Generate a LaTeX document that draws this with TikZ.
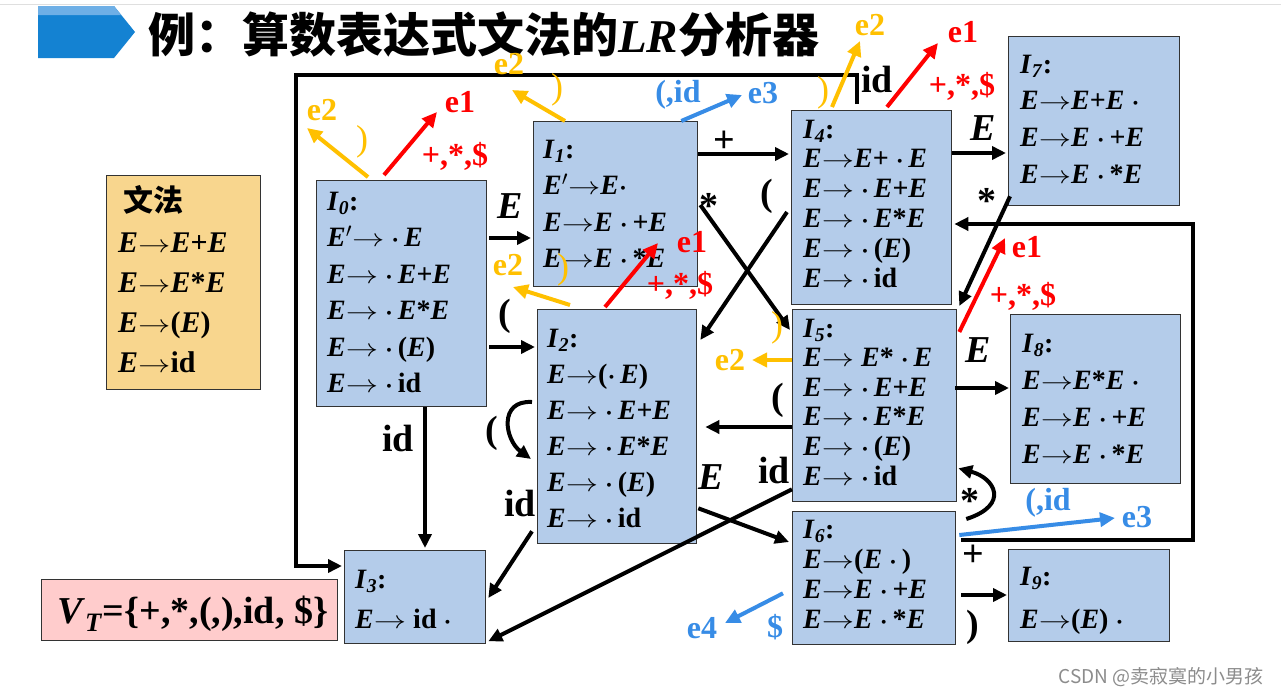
\documentclass[tikz,border=0pt]{standalone}
\usepackage{fontspec}
\usepackage{graphicx}
\setmainfont{Liberation Serif}
\newfontfamily\cjk{Noto Sans CJK SC}
\usetikzlibrary{arrows.meta,calc}
\definecolor{boxblue}{RGB}{180,204,234}
\definecolor{gramorange}{RGB}{248,214,142}
\definecolor{vtpink}{RGB}{255,204,204}
\definecolor{eyellow}{RGB}{255,192,0}
\definecolor{ered}{RGB}{255,0,0}
\definecolor{eblue}{RGB}{55,140,230}
\definecolor{titleblue}{RGB}{20,130,210}
\definecolor{titlelight}{RGB}{110,175,230}
\newcommand\E{\textit{E}}
\newcommand\ra{\scalebox{1.3}[1]{$\rightarrow$}}
\newcommand\dt{{\boldmath$\cdot$}}
\newcommand\Ix[1]{\textit{I}\textsubscript{\textit{#1}}:}
\begin{document}
\begin{tikzpicture}[x=1pt,y=-1pt,
  box/.style={draw=black!80,line width=1.3pt,fill=boxblue,anchor=north west,inner sep=0pt},
  btxt/.style={anchor=north west,inner sep=0pt,align=left,font=\bfseries\fontsize{28}{#1}\selectfont},
  lab/.style={inner sep=0pt,font=\bfseries\fontsize{38}{38}\selectfont},
  elab/.style={inner sep=0pt,font=\bfseries\fontsize{32}{32}\selectfont},
  plab/.style={inner sep=0pt,font=\fontsize{36}{36}\selectfont},
  edge/.style={line width=4pt,line join=miter,-{Triangle[length=14pt,width=13pt]}},
  eedge/.style={line width=4pt,-{Triangle[length=15pt,width=14pt]}}
]
\useasboundingbox (0,0) rectangle (1281,696);
\fill[white] (0,0) rectangle (1281,696);
\draw[gray!25,line width=1pt] (0,4) -- (1281,4);
% title
\fill[titleblue] (38,6) -- (114,6) -- (135,32) -- (114,58) -- (38,58) -- cycle;
\fill[titlelight] (38,6) -- (114,6) -- (121,15) -- (38,15) -- cycle;
\node[anchor=west,inner sep=0pt] (title) at (148,34) {\cjk\bfseries\fontsize{47}{47}\selectfont 例：算数表达式文法的{\rmfamily\bfseries\itshape LR}分析器};
% grammar and VT
\node[box,fill=gramorange,minimum width=154pt,minimum height=214pt] (G) at (106,175) {};
\node[anchor=west,inner sep=0pt] (Gt) at (123,200) {\cjk\bfseries\fontsize{30}{30}\selectfont 文法};
\node[btxt=40,font=\bfseries\fontsize{30}{40}\selectfont] (Gr) at (118,233) {\E\ra\E+\E\\ \E\ra\E*\E\\ \E\ra(\E)\\ \E\ra id};
\node[box,fill=vtpink,minimum width=296pt,minimum height=61pt] (VT) at (41,579) {};
\node[anchor=base west,inner sep=0pt,font=\bfseries\fontsize{38}{38}\selectfont] (VTt) at (57,623) {\textit{V}\textsubscript{\textit{T}}=\{+,*,(,),id, \$\}};
% item boxes
\node[box,minimum width=170pt,minimum height=226pt] (I0) at (316,180) {};
\node[box,minimum width=164pt,minimum height=165pt] (I1) at (533,121) {};
\node[box,minimum width=159pt,minimum height=234pt] (I2) at (537,309) {};
\node[box,minimum width=141pt,minimum height=93pt] (I3) at (344,550) {};
\node[box,minimum width=160pt,minimum height=194pt] (I4) at (791,110) {};
\node[box,minimum width=164pt,minimum height=192pt] (I5) at (792,309) {};
\node[box,minimum width=163pt,minimum height=133pt] (I6) at (792,511) {};
\node[box,minimum width=171pt,minimum height=169pt] (I7) at (1008,36) {};
\node[box,minimum width=170pt,minimum height=169pt] (I8) at (1010,314) {};
\node[box,minimum width=161pt,minimum height=92pt] (I9) at (1008,549) {};
\node[btxt=36.5] (T0) at (327,191.5) {\Ix{0}\\ \E$'$\ra\ \dt\,\E\\ \E\ra\ \dt\,\E+\E\\ \E\ra\ \dt\,\E*\E\\ \E\ra\ \dt\,(\E)\\ \E\ra\ \dt\,id};
\node[btxt=36.5] (T1) at (543,139.5) {\Ix{1}\\ \E$'$\ra\E\dt\\ \E\ra\E\ \dt\,+\E\\ \E\ra\E\ \dt\,*\E};
\node[btxt=36] (T2) at (547,328.5) {\Ix{2}\\ \E\ra(\dt\,\E)\\ \E\ra\ \dt\,\E+\E\\ \E\ra\ \dt\,\E*\E\\ \E\ra\ \dt\,(\E)\\ \E\ra\ \dt\,id};
\node[btxt=40] (T3) at (355,569.5) {\Ix{3}\\ \E\ra\ id \dt};
\node[btxt=29.8] (T4) at (803,119.5) {\Ix{4}\\ \E\ra\E+\ \dt\,\E\\ \E\ra\ \dt\,\E+\E\\ \E\ra\ \dt\,\E*\E\\ \E\ra\ \dt\,(\E)\\ \E\ra\ \dt\,id};
\node[btxt=29.6] (T5) at (803,318.5) {\Ix{5}\\ \E\ra\ \E*\ \dt\,\E\\ \E\ra\ \dt\,\E+\E\\ \E\ra\ \dt\,\E*\E\\ \E\ra\ \dt\,(\E)\\ \E\ra\ \dt\,id};
\node[btxt=30] (T6) at (803,519.5) {\Ix{6}\\ \E\ra(\E\ \dt\,)\\ \E\ra\E\ \dt\,+\E\\ \E\ra\E\ \dt\,*\E};
\node[btxt=36.7] (T7) at (1020,54.5) {\Ix{7}\\ \E\ra\E+\E\ \dt\\ \E\ra\E\ \dt\,+\E\\ \E\ra\E\ \dt\,*\E};
\node[btxt=37.3] (T8) at (1022,333.5) {\Ix{8}\\ \E\ra\E*\E\ \dt\\ \E\ra\E\ \dt\,+\E\\ \E\ra\E\ \dt\,*\E};
\node[btxt=43] (T9) at (1020,566.5) {\Ix{9}\\ \E\ra(\E)\ \dt};
% corner coordinates
\coordinate (c1) at (296,75);
\coordinate (c2) at (296,566);
\coordinate (c3) at (1193,540);
\coordinate (c4) at (1193,224);
% black transitions
\draw[edge] ($(I0.north east)+(2,58)$) -- ($(I1.north west)+(-2,117)$);
\draw[edge] ($(I0.north east)+(2,167)$) -- ($(I2.north west)+(-2,38)$);
\draw[edge] ($(I0.south west)+(109,0)$) -- ($(I3.north west)+(81,-2)$);
\draw[edge] ($(I4.north west)+(66,-6)$) |- (c1) -- (c2) -- ($(I3.north west)+(-2,16)$);
\draw[edge] ($(I1.north east)+(0,33)$) -- ($(I4.north west)+(-2,44)$);
\draw[edge] ($(I1.north east)+(2,84)$) -- ($(I5.north west)+(-2,21)$);
\draw[edge] ($(I4.north west)+(-4,102)$) -- ($(I2.north east)+(3,31)$);
\draw[edge] ($(I4.north east)+(0,43)$) -- ($(I7.north west)+(-2,117)$);
\draw[edge] ($(I7.south west)+(2,-10)$) -- ($(I5.north east)+(2,-3)$);
\draw[edge] ($(I6.north east)+(5,29)$) -- (c3) -- (c4) -- ($(I4.north east)+(2,114)$);
\draw[edge] ($(I5.north east)+(-2,79)$) -- ($(I8.north west)+(-1,74)$);
\draw[edge] ($(I5.north west)+(0,118)$) -- ($(I2.north east)+(8,118)$);
\draw[edge] ($(I5.south west)+(0,-13)$) -- ($(I3.south east)+(2,-3)$);
\draw[edge] ($(I6.north east)+(10,8)$) .. controls (1010,505) and (995,478) .. ($(I5.south east)+(1,-34)$);
\draw[edge] ($(I2.north west)+(-5,93)$) .. controls (498,400) and (505,440) .. ($(I2.north west)+(-6,150)$);
\draw[edge] ($(I2.south west)+(-5,-13)$) -- ($(I3.north east)+(2,48)$);
\draw[edge] ($(I2.south east)+(1,-36)$) -- ($(I6.north west)+(-3,31)$);
\draw[edge] ($(I6.north east)+(5,84)$) -- ($(I9.north west)+(-1,46)$);
% black labels
\node[lab] (lE01) at (510,206) {\textit{E}};
\node[lab] (lP02) at (505,316) {(};
\node[lab] (lid03) at (398,438) {id};
\node[lab] (lid43) at (877,80) {id};
\node[lab] (lpl14) at (724,142) {+};
\node[lab] (lst15) at (709,206) {*};
\node[lab] (lP42) at (767,196) {(};
\node[lab] (lE47) at (983,128) {\textit{E}};
\node[lab] (lst75) at (987,201) {*};
\node[lab] (lpl64) at (973,556) {+};
\node[lab] (lE58) at (978,350) {\textit{E}};
\node[lab] (lP52) at (778,400) {(};
\node[lab] (lid53) at (774,470) {id};
\node[lab] (lst65) at (970,501) {*};
\node[lab] (lP22) at (492,433) {(};
\node[lab] (lid23) at (520,503) {id};
\node[lab] (lE26) at (711,477) {\textit{E}};
\node[lab] (lP69) at (973,627) {)};
% error coordinates
\coordinate (y0) at (307,128);
\coordinate (y1) at (512,90);
\coordinate (y2) at (513,287);
\coordinate (y4) at (860,41);
\coordinate (y5) at (752,360);
\coordinate (r0) at (437,112);
\coordinate (r2) at (658,243);
\coordinate (r4) at (938,43);
\coordinate (r5) at (1005,238);
\coordinate (b1) at (742,95);
\coordinate (b6) at (1115,518);
\coordinate (b7) at (725,623);
% yellow e2
\draw[eedge,eyellow] ($(I0.north west)+(52,-3)$) -- (y0);
\draw[eedge,eyellow] ($(I1.north west)+(32,0)$) -- (y1);
\draw[eedge,eyellow] ($(I2.north west)+(33,-4)$) -- (y2);
\draw[eedge,eyellow] ($(I4.north west)+(41,-3)$) -- (y4);
\draw[eedge,eyellow] ($(I5.north west)+(0,51)$) -- (y5);
\node[plab,eyellow] (py0) at (362,142) {)};
\node[elab,eyellow] (ey0) at (322,110) {e2};
\node[plab,eyellow] (py1) at (557,90) {)};
\node[elab,eyellow] (ey1) at (509,64) {e2};
\node[plab,eyellow] (py2) at (563,270) {)};
\node[elab,eyellow] (ey2) at (508,265) {e2};
\node[plab,eyellow] (py4) at (823,93) {)};
\node[elab,eyellow] (ey4) at (870,25) {e2};
\node[plab,eyellow] (py5) at (777,328) {)};
\node[elab,eyellow] (ey5) at (730,360) {e2};
% red e1
\draw[eedge,ered] ($(I0.north west)+(68,-5)$) -- (r0);
\draw[eedge,ered] ($(I2.north west)+(68,-2)$) -- (r2);
\draw[eedge,ered] ($(I4.north west)+(96,-3)$) -- (r4);
\draw[eedge,ered] ($(I5.north east)+(2,23)$) -- (r5);
\node[elab,ered] (er0) at (460,102) {e1};
\node[elab,ered] (sr0) at (455,156) {+,*,\$};
\node[elab,ered] (er2) at (692,242) {e1};
\node[elab,ered] (sr2) at (680,285) {+,*,\$};
\node[elab,ered] (er4) at (963,32) {e1};
\node[elab,ered] (sr4) at (962,86) {+,*,\$};
\node[elab,ered] (er5) at (1027,247) {e1};
\node[elab,ered] (sr5) at (1023,296) {+,*,\$};
% blue e3 e4
\draw[eedge,eblue] ($(I1.north east)+(-17,0)$) -- (b1);
\draw[eedge,eblue] ($(I6.north east)+(3,24)$) -- (b6);
\draw[eedge,eblue] ($(I6.south west)+(-9,-52)$) -- (b7);
\node[elab,eblue] (sb1) at (678,95) {(,id};
\node[elab,eblue] (eb1) at (763,93) {e3};
\node[elab,eblue] (sb6) at (1048,503) {(,id};
\node[elab,eblue] (eb6) at (1137,517) {e3};
\node[elab,eblue] (sb7) at (775,627) {\$};
\node[elab,eblue] (eb7) at (702,628) {e4};
% watermark
\node[inner sep=0pt,text=black!45,font=\cjk\fontsize{19}{19}\selectfont] (wm) at (1161,677) {CSDN @卖寂寞的小男孩};
\end{tikzpicture}
\end{document}
